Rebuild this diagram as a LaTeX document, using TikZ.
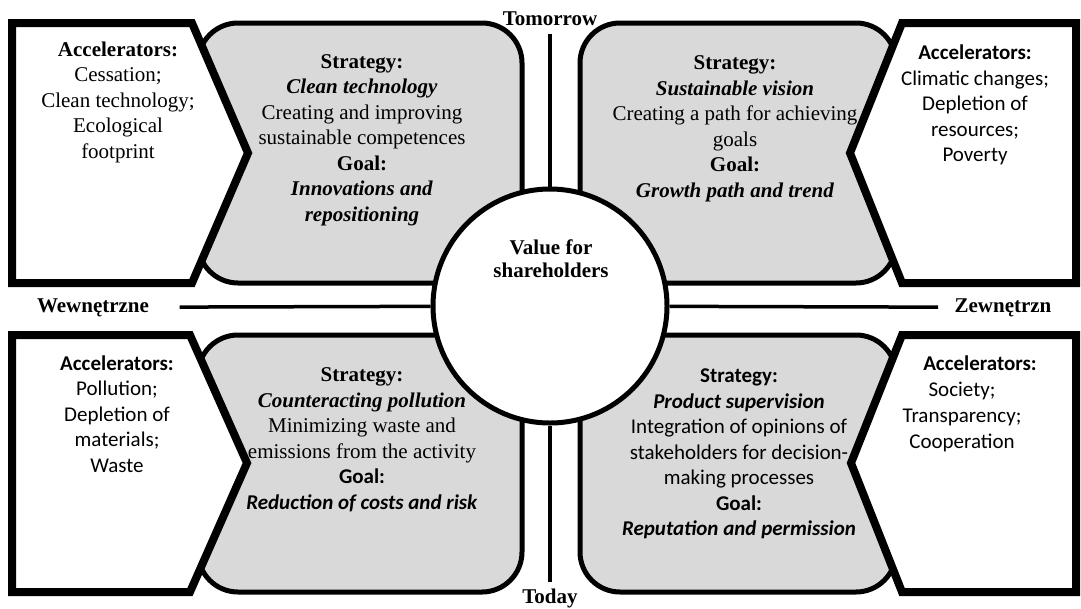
\documentclass[tikz,border=0pt]{standalone}
\usepackage{fontspec}
\setmainfont{Liberation Serif}
\newfontfamily\calibri{Carlito}
\begin{document}
\begin{tikzpicture}[x=1pt,y=-1pt,
        txt/.style={align=center,font=\fontsize{21}{25.5}\selectfont},
        side/.style={font=\fontsize{21}{25}\selectfont\bfseries,anchor=base},
        accel/.style={draw,fill=white,line width=8pt,line join=miter},
        strat/.style={draw,fill=black!15,line width=5pt,rounded corners=40pt},
        axis/.style={line width=3.5pt}]
        \useasboundingbox (0,0) rectangle (1081,608);

        \draw[strat] (198,23) rectangle (522,283);
        \draw[strat] (580,23) rectangle (896,283);
        \draw[strat] (198,335) rectangle (522,592);
        \draw[strat] (580,335) rectangle (896,592);

        \draw[accel] (12,23) -- (192,23) -- (248,153) -- (192,283) -- (12,283) -- cycle;
        \draw[accel] (1076,23) -- (902,23) -- (850,153) -- (902,283) -- (1076,283) -- cycle;
        \draw[accel] (12,335) -- (190,335) -- (247,463) -- (190,592) -- (12,592) -- cycle;
        \draw[accel] (1076,335) -- (902,335) -- (851,463) -- (902,592) -- (1076,592) -- cycle;

        \node[draw,circle,fill=white,line width=5pt,minimum size=234pt,inner sep=0pt] (value) at (550,306) {};
        \node[txt,font=\fontsize{21}{23}\selectfont\bfseries] (valuetext) at (551,259) {Value for\\shareholders};

        \node[side] (tomorrow) at (550,25) {Tomorrow};
        \node[side] (today) at (550,603) {Today};
        \node[side] (wew) at (93,312) {Wewnętrzne};
        \node[side] (zew) at (1003,312) {Zewnętrzn};

        \draw[axis,shorten <=5pt] (tomorrow) -- (value);
        \draw[axis,shorten >=3pt] (value) -- (today);
        \draw[axis,shorten <=27pt] (wew) -- (value);
        \draw[axis,shorten >=13pt] (value) -- (zew);

        \node[txt] (accTL) at (118,102) {\textbf{Accelerators:}\\Cessation;\\Clean technology;\\Ecological\\footprint};
        \node[txt,font=\fontsize{21}{25.5}\selectfont\calibri] (accTR) at (975,105) {\textbf{Accelerators:}\\Climatic changes;\\Depletion of\\resources;\\Poverty};
        \node[txt,font=\fontsize{21}{25.5}\selectfont\calibri] (accBL) at (117,414) {\textbf{Accelerators:}\\Pollution;\\Depletion of\\materials;\\Waste};
        \node[txt,font=\fontsize{21}{26}\selectfont\calibri] (accBR) at (962,404) {\hspace*{36pt}\textbf{Accelerators:}\\Society;\\Transparency;\\Cooperation};

        \node[txt] (stratTL) at (362,140) {\textbf{Strategy:}\\\textbf{\textit{Clean technology}}\\Creating and improving\\sustainable competences\\\textbf{Goal:}\\\textbf{\textit{Innovations and}}\\\textbf{\textit{repositioning}}};
        \node[txt] (stratTR) at (735,129) {\textbf{Strategy:}\\\textbf{\textit{Sustainable vision}}\\Creating a path for achieving\\goals\\\textbf{Goal:}\\\textbf{\textit{Growth path and trend}}};
        \node[txt] (stratBL) at (362,440) {\textbf{Strategy:}\\\textbf{\textit{Counteracting pollution}}\\Minimizing waste and\\emissions from the activity\\{\calibri\textbf{Goal:}}\\{\calibri\textbf{\textit{Reduction of costs and risk}}}};
        \node[txt,font=\fontsize{21}{25.5}\selectfont\calibri] (stratBR) at (739,454) {\textbf{Strategy:}\\\textbf{\textit{Product supervision}}\\Integration of opinions of\\stakeholders for decision-\\making processes\\\textbf{Goal:}\\\textbf{\textit{Reputation and permission}}};
    \end{tikzpicture}
\end{document}
